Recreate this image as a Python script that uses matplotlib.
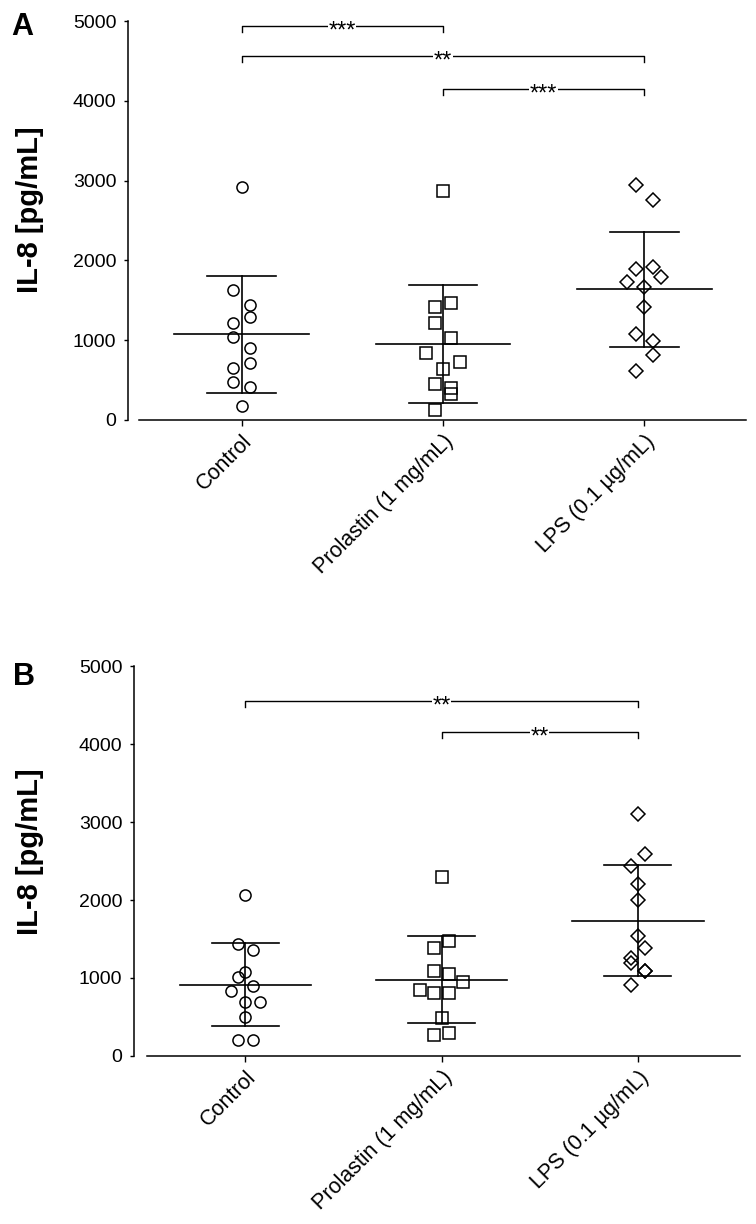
import matplotlib
matplotlib.use("Agg")
import matplotlib.pyplot as plt
import numpy as np

plt.rcParams['font.family'] = ['Liberation Sans', 'DejaVu Sans']

# categories and tick labels
groups = ["Control", "Prolastin (1 mg/mL)", "LPS (0.1 µg/mL)"]
yticks = [0, 1000, 2000, 3000, 4000, 5000]

# IL-8 values (pg/mL), panel A
ctrl_a = [2924, 1629, 1437, 1295, 1220, 1044, 906, 710, 647, 480, 409, 175]
prol_a = [2870, 1470, 1416, 1211, 1023, 835, 723, 639, 451, 397, 322, 129]
lps_a = [2941, 2757, 1921, 1892, 1796, 1733, 1671, 1420, 1078, 990, 815, 618]

# panel B
ctrl_b = [2059, 1432, 1355, 1074, 1014, 899, 827, 694, 694, 503, 205, 205]
prol_b = [2293, 1471, 1390, 1087, 1049, 950, 844, 802, 809, 490, 269, 290]
lps_b = [3104, 2592, 2430, 2208, 1995, 1538, 1385, 1257, 1198, 1087, 1087, 908]

# scatter slots (column position of each point, as in the dot plot)
slot_ctrl_a = [0, -1, 1, 1, -1, -1, 1, 1, -1, -1, 1, 0]
slot_prol_a = [0, 1, -1, -1, 1, -2, 2, 0, -1, 1, 1, -1]
slot_lps_a = [-1, 1, 1, -1, 2, -2, 0, 0, -1, 1, 1, -1]
slot_ctrl_b = [0, -1, 1, 0, -1, 1, -2, 0, 2, 0, -1, 1]
slot_prol_b = [0, 1, -1, -1, 1, 3, -3, -1, 1, 0, -1, 1]
slot_lps_b = [0, 1, -1, 0, 0, 0, 1, -1, -1, 1, 1, -1]

# significance: (group i, group j, height, label)
sig_a = [(0, 1, 4937, "***"), (0, 2, 4560, "**"), (1, 2, 4150, "***")]
sig_b = [(0, 2, 4550, "**"), (1, 2, 4150, "**")]

markers = ["o", "s", "D"]
msizes = [8.0, 8.5, 6.8]

fig = plt.figure(figsize=(7.56, 12.24), dpi=100)
W, H = 756.0, 1224.0


def panel(rect_px, xlim, xstart, slotw, data, slots, sigs, letter, letter_px, ylab_px):
    l, t, r, b = rect_px
    ax = fig.add_axes([l / W, 1 - b / H, (r - l) / W, (b - t) / H])
    ax.set_xlim(*xlim)
    ax.set_ylim(0, 5000)
    for i, (vals, sl) in enumerate(zip(data, slots)):
        vals = np.array(vals, dtype=float)
        xs = i + np.array(sl) * slotw
        ax.plot(xs, vals, linestyle="none", marker=markers[i], ms=msizes[i],
                mfc="none", mec="black", mew=1.1, clip_on=False, zorder=3)
        m = vals.mean()
        sd = vals.std(ddof=1)
        ax.plot([i - 0.335, i + 0.335], [m, m], color="black", lw=1.2, zorder=2)
        ax.plot([i - 0.17, i + 0.17], [m + sd, m + sd], color="black", lw=1.2, zorder=2)
        ax.plot([i - 0.17, i + 0.17], [m - sd, m - sd], color="black", lw=1.2, zorder=2)
        ax.plot([i, i], [m - sd, m + sd], color="black", lw=1.2, zorder=2)
    d = 75
    for i, j, y, lab in sigs:
        ax.plot([i, i, j, j], [y - d, y, y, y - d], color="black", lw=1.0,
                clip_on=False, zorder=2)
        ax.annotate(lab, ((i + j) / 2, y), xytext=(0, -4), textcoords="offset points",
                    ha="center", va="center", fontsize=17,
                    bbox=dict(facecolor="white", edgecolor="none", pad=0.3), zorder=4)
    for s in ["top", "right"]:
        ax.spines[s].set_visible(False)
    ax.spines["left"].set_bounds(0, 5000)
    ax.spines["bottom"].set_bounds(xstart, xlim[1])
    for s in ["left", "bottom"]:
        ax.spines[s].set_linewidth(1.1)
    ax.set_yticks(yticks)
    ax.set_yticklabels([str(v) for v in yticks], fontsize=14)
    ax.tick_params(axis="y", length=3, width=1.0, pad=5)
    ax.set_xticks(range(len(groups)))
    ax.set_xticklabels(groups, rotation=45, ha="right", rotation_mode="anchor", fontsize=15.5)
    ax.tick_params(axis="x", length=4, width=1.0, pad=4)
    fig.text(letter_px[0] / W, 1 - letter_px[1] / H, letter, fontsize=22,
             fontweight="bold", ha="left", va="baseline")
    fig.text(30 / W, 1 - ylab_px / H, "IL-8 [pg/mL]", rotation=90, fontsize=21,
             fontweight="bold", ha="center", va="center")
    return ax


panel((127.5, 21, 746, 420), (-0.567, 2.505), -0.510, 0.042,
      [ctrl_a, prol_a, lps_a], [slot_ctrl_a, slot_prol_a, slot_lps_a], sig_a,
      "A", (11, 35), 210)
panel((133.5, 666, 740, 1056), (-0.570, 2.521), -0.501, 0.037,
      [ctrl_b, prol_b, lps_b], [slot_ctrl_b, slot_prol_b, slot_lps_b], sig_b,
      "B", (13, 685), 852)

fig.savefig("out.png", dpi=100)
